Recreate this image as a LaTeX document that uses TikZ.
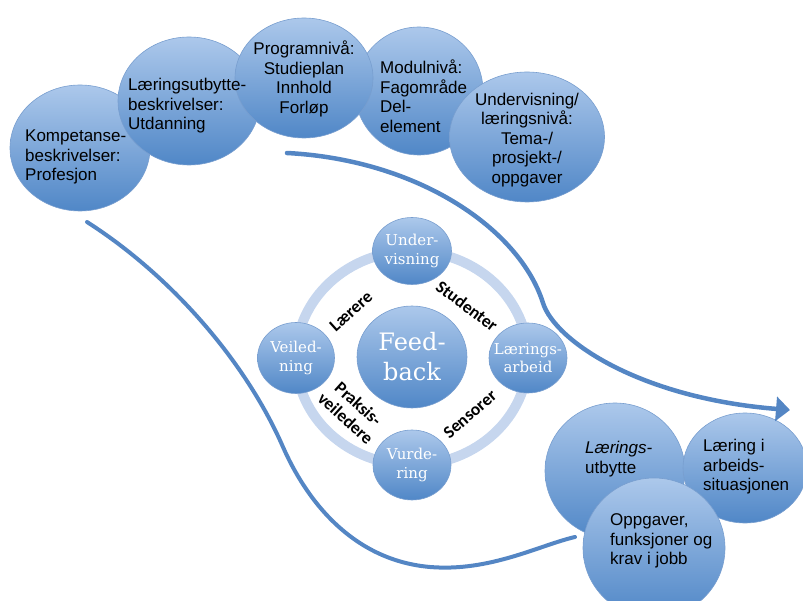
\documentclass[tikz,border=0pt]{standalone}
\usepackage{fontspec}
\setmainfont{Liberation Sans}
\newfontfamily\cycfont{DejaVu Serif}
\newfontfamily\ringfont{Carlito}
\usetikzlibrary{shapes.geometric,arrows.meta}
\definecolor{bubtop}{RGB}{172,200,235}
\definecolor{bubbot}{RGB}{80,135,199}
\definecolor{bubline}{RGB}{120,158,207}
\definecolor{ringblue}{RGB}{198,214,238}
\definecolor{linkblue}{RGB}{84,134,196}

\begin{document}
\begin{tikzpicture}[x=1pt, y=-1pt,
	bubble/.style = {ellipse, draw=bubline, line width=0.6pt, top color=bubtop, bottom color=bubbot, inner sep=0pt},
	toptxt/.style = {align=left, inner sep=0pt, font=\fontsize{17}{19.5}\selectfont},
	midtxt/.style = {toptxt, align=center},
	cyctxt/.style = {align=center, inner sep=0pt, text=white, font=\cycfont\fontsize{15}{18.3}\selectfont},
	ringtxt/.style = {align=center, inner sep=0pt, font=\ringfont\bfseries\fontsize{17.5}{19}\selectfont},
	link/.style = {draw=linkblue, line width=4.5pt, line cap=round}]
			\useasboundingbox (0,0) rectangle (803,601);

			\node[bubble, minimum width=140pt, minimum height=126pt] (komp) at (80,148) {};
			\node[bubble, minimum width=128pt, minimum height=128pt] (modul) at (419,91) {};
			\node[bubble, minimum width=142pt, minimum height=128pt] (utd) at (189,101) {};
			\node[bubble, minimum width=155pt, minimum height=130pt] (tema) at (527,137) {};
			\node[bubble, minimum width=138pt, minimum height=120pt] (prog) at (304,78) {};

			\node[toptxt, anchor=west] (kompT) at (25,157) {Kompetanse-\\beskrivelser:\\Profesjon};
			\node[toptxt, anchor=west] (utdT) at (128,106) {Læringsutbytte-\\beskrivelser:\\Utdanning};
			\node[midtxt] (progT) at (304,79) {Programnivå:\\Studieplan\\Innhold\\Forløp};
			\node[toptxt, anchor=west] (modulT) at (380,96) {Modulnivå:\\Fagområde\\Del-\\element};
			\node[midtxt] (temaT) at (527,140) {Undervisning/\\læringsnivå:\\Tema-/\\prosjekt-/\\oppgaver};

			\draw[ringblue, line width=10pt] (412,358) ellipse [x radius=116, y radius=107];

			\node[bubble, minimum width=110pt, minimum height=102pt] (feed) at (412,357) {};
			\node[bubble, minimum width=79pt, minimum height=67pt] (underv) at (412,251) {};
			\node[bubble, minimum width=77pt, minimum height=71pt] (veil) at (296,358) {};
			\node[bubble, minimum width=78pt, minimum height=70pt] (arbeid) at (528,358) {};
			\node[bubble, minimum width=78pt, minimum height=70pt] (vurd) at (412,465) {};

			\node[cyctxt, font=\cycfont\fontsize{24}{30}\selectfont] (feedT) at (feed) {Feed-\\back};
			\node[cyctxt] (undervT) at (underv) {Under-\\visning};
			\node[cyctxt] (veilT) at (veil) {Veiled-\\ning};
			\node[cyctxt] (arbeidT) at (arbeid) {Lærings-\\arbeid};
			\node[cyctxt] (vurdT) at (vurd) {Vurde-\\ring};

			\node[ringtxt, rotate=42] (laerere) at (351,311) {Lærere};
			\node[ringtxt, rotate=-37] (studenter) at (467,306) {Studenter};
			\node[ringtxt, rotate=41] (sensorer) at (470,414) {Sensorer};
			\node[ringtxt, rotate=-42] (praksis) at (352,411) {Praksis-\\veiledere};

			\node[bubble, minimum width=140pt, minimum height=136pt] (utbytte) at (615,471) {};
			\node[bubble, minimum width=124pt, minimum height=110pt] (arbsit) at (745,468) {};
			\node[bubble, minimum width=142pt, minimum height=140pt] (oppg) at (654,548) {};

			\node[toptxt, anchor=west] (utbytteT) at (585,459) {\textit{Lærings-}\\utbytte};
			\node[toptxt, anchor=west] (arbsitT) at (703,467) {Læring i\\arbeids-\\situasjonen};
			\node[toptxt, anchor=west] (oppgT) at (610,541) {Oppgaver,\\funksjoner og\\krav i jobb};

			\coordinate (arrS) at (287,153);
			\coordinate (arrM) at (543,303);
			\coordinate (arrE) at (790,410);
			\coordinate (curS) at (87,222);
			\coordinate (curM) at (283,447);
			\coordinate (curB) at (430,567);
			\coordinate (curE) at (575,537);

			\draw[link, -{Triangle[length=14pt, width=24pt]}] (arrS) .. controls (420,160) and (520,230) .. (arrM)
				.. controls (555,341) and (640,398) .. (arrE);
			\draw[link, line width=4pt] (curS) .. controls (170,275) and (245,360) .. (curM)
				.. controls (305,497) and (350,560) .. (curB)
				.. controls (490,572) and (540,545) .. (curE);
		\end{tikzpicture}
\end{document}
